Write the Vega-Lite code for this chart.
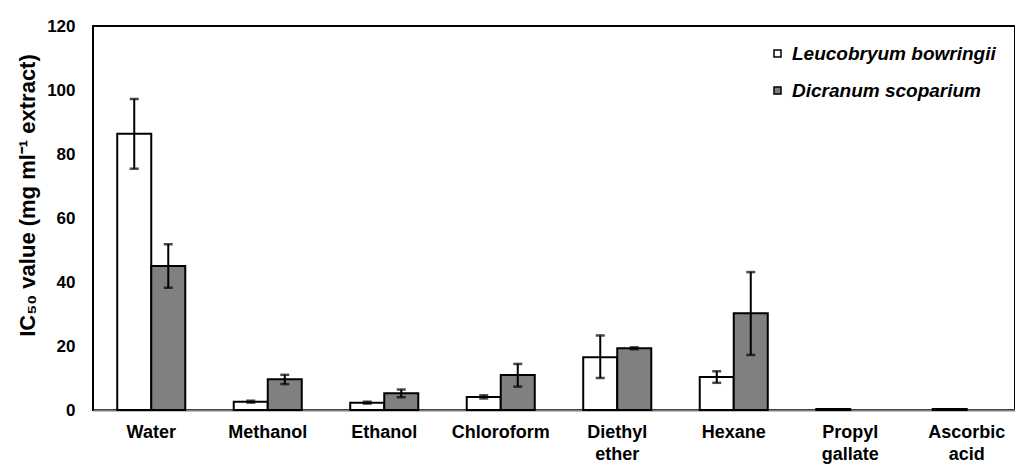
{
  "$schema": "https://vega.github.io/schema/vega-lite/v6.json",
  "autosize": {"type": "none"},
  "padding": {"left": 93, "top": 26, "right": 0, "bottom": 58},
  "width": 922,
  "height": 384,
  "background": "white",
  "config": {
    "font": "Liberation Sans",
    "view": {"stroke": "black", "strokeWidth": 2}
  },
  "data": {
    "values": [
      {"category": "Water", "species": "Leucobryum bowringii", "value": 86.3, "lo": 75.4, "hi": 97.2},
      {"category": "Water", "species": "Dicranum scoparium", "value": 45.0, "lo": 38.2, "hi": 51.8},
      {"category": "Methanol", "species": "Leucobryum bowringii", "value": 2.6, "lo": 2.3, "hi": 2.9},
      {"category": "Methanol", "species": "Dicranum scoparium", "value": 9.6, "lo": 8.1, "hi": 11.0},
      {"category": "Ethanol", "species": "Leucobryum bowringii", "value": 2.3, "lo": 2.0, "hi": 2.6},
      {"category": "Ethanol", "species": "Dicranum scoparium", "value": 5.2, "lo": 4.0, "hi": 6.4},
      {"category": "Chloroform", "species": "Leucobryum bowringii", "value": 4.1, "lo": 3.6, "hi": 4.6},
      {"category": "Chloroform", "species": "Dicranum scoparium", "value": 10.9, "lo": 7.3, "hi": 14.4},
      {"category": "Diethyl ether", "species": "Leucobryum bowringii", "value": 16.5, "lo": 10.0, "hi": 23.3},
      {"category": "Diethyl ether", "species": "Dicranum scoparium", "value": 19.3, "lo": 19.0, "hi": 19.6},
      {"category": "Hexane", "species": "Leucobryum bowringii", "value": 10.3, "lo": 8.5, "hi": 12.1},
      {"category": "Hexane", "species": "Dicranum scoparium", "value": 30.2, "lo": 17.2, "hi": 43.1},
      {"category": "Propyl gallate", "species": "Leucobryum bowringii", "value": 0.3, "lo": null, "hi": null},
      {"category": "Ascorbic acid", "species": "Leucobryum bowringii", "value": 0.3, "lo": null, "hi": null}
    ]
  },
  "encoding": {
    "x": {
      "field": "category",
      "type": "nominal",
      "sort": ["Water", "Methanol", "Ethanol", "Chloroform", "Diethyl ether", "Hexane", "Propyl gallate", "Ascorbic acid"],
      "scale": {"range": [0, 932], "paddingInner": 0.416, "paddingOuter": 0.208},
      "axis": {
        "title": null,
        "labelAngle": 0,
        "labelExpr": "split(datum.label, ' ')",
        "labelFontSize": 18,
        "labelFontWeight": "bold",
        "labelColor": "black",
        "labelLineHeight": 22,
        "labelPadding": 13,
        "ticks": false,
        "domainColor": "#808080",
        "domainWidth": 2
      }
    },
    "xOffset": {
      "field": "species",
      "type": "nominal",
      "sort": ["Leucobryum bowringii", "Dicranum scoparium"],
      "scale": {"domain": ["Leucobryum bowringii", "Dicranum scoparium"], "paddingInner": 0, "paddingOuter": 0}
    }
  },
  "layer": [
    {
      "mark": {"type": "bar", "stroke": "black", "strokeWidth": 2},
      "encoding": {
        "y": {
          "field": "value",
          "type": "quantitative",
          "scale": {"domain": [0, 120], "nice": false},
          "axis": {
            "title": "IC₅₀ value (mg ml⁻¹  extract)",
            "titleFontSize": 22,
            "titleFontWeight": "bold",
            "titleColor": "black",
            "titleY": 169,
            "titleX": -66,
            "titleAngle": 270,
            "titleBaseline": "middle",
            "titleAlign": "center",
            "values": [0, 20, 40, 60, 80, 100, 120],
            "labelFontSize": 17,
            "labelFontWeight": "bold",
            "labelColor": "black",
            "labelPadding": 18,
            "ticks": false,
            "grid": false,
            "domain": false
          }
        },
        "fill": {
          "field": "species",
          "type": "nominal",
          "sort": ["Leucobryum bowringii", "Dicranum scoparium"],
          "scale": {"domain": ["Leucobryum bowringii", "Dicranum scoparium"], "range": ["white", "#808080"]},
          "legend": {
            "title": null,
            "orient": "none",
            "legendX": 675,
            "legendY": 18,
            "symbolType": "square",
            "symbolSize": 49,
            "symbolStrokeColor": "black",
            "symbolStrokeWidth": 1.5,
            "labelFontSize": 19,
            "labelFontWeight": "bold",
            "labelFontStyle": "italic",
            "labelColor": "black",
            "labelOffset": 5,
            "rowPadding": 17,
            "labelLimit": 300
          }
        }
      }
    },
    {
      "mark": {"type": "rule", "color": "black", "strokeWidth": 2},
      "encoding": {
        "y": {"field": "lo", "type": "quantitative"},
        "y2": {"field": "hi"}
      }
    },
    {
      "mark": {"type": "tick", "color": "black", "thickness": 2.5, "size": 9},
      "encoding": {
        "y": {"field": "lo", "type": "quantitative"}
      }
    },
    {
      "mark": {"type": "tick", "color": "black", "thickness": 2.5, "size": 9},
      "encoding": {
        "y": {"field": "hi", "type": "quantitative"}
      }
    }
  ]
}
